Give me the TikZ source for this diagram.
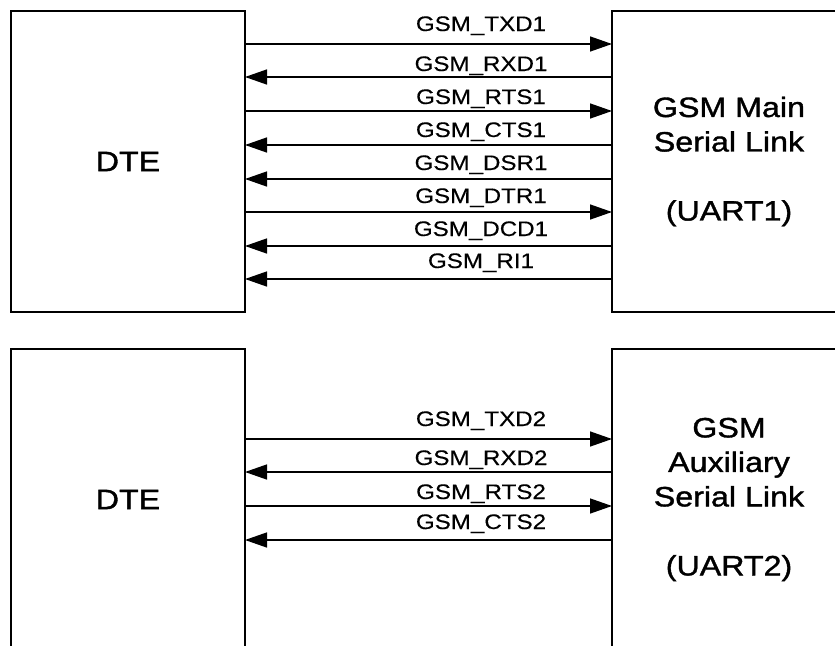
\documentclass[tikz,border=0pt]{standalone}
\usepackage{fontspec}
\usetikzlibrary{arrows.meta}
\newfontfamily\bigf[FakeStretch=1.15,FakeBold=1.3]{Liberation Sans}
\newfontfamily\lblf[FakeStretch=1.15,FakeBold=0.4]{Liberation Sans}
\begin{document}
\begin{tikzpicture}[x=1pt,y=-1pt,
  box/.style={draw,line width=2pt,inner sep=0pt,outer sep=0pt,minimum width=234pt,minimum height=301pt,align=center,
    font=\bigf\fontsize{28}{34.5}\selectfont},
  sig/.style={line width=1.4pt,-{Triangle[length=22pt,width=15pt]}},
  lbl/.style={anchor=base,inner sep=0pt,font=\lblf\fontsize{21}{24}\selectfont}]
\useasboundingbox (0,0) rectangle (835,645);
\clip (0,0) rectangle (835,645);
% top group
\node[box] (dte1) at (128,161.5) {DTE};
\node[box] (gsm1) at (729,161.5) {GSM Main\\Serial Link\\\mbox{}\\(UART1)};
% bottom group
\node[box] (dte2) at (128,499.5) {DTE};
\node[box] (gsm2) at (729,499.5) {GSM\\Auxiliary\\Serial Link\\\mbox{}\\(UART2)};
% top signals: y / direction / label baseline / text
\foreach \y/\d/\b/\t in {44/r/31/GSM\_TXD1, 77/l/71/GSM\_RXD1, 111/r/104/GSM\_RTS1, 145/l/137/GSM\_CTS1,
  179/l/170/GSM\_DSR1, 212/r/203/GSM\_DTR1, 246/l/236/GSM\_DCD1, 279/l/268/GSM\_RI1}{
  \coordinate (a) at (dte1.east |- 0,\y);
  \coordinate (b) at (gsm1.west |- 0,\y);
  \if\d r \draw[sig] (a) -- (b); \else \draw[sig] (b) -- (a); \fi
  \node[lbl] at (481,\b) {\t};
}
\foreach \y/\d/\b/\t in {439/r/426/GSM\_TXD2, 472/l/465/GSM\_RXD2, 506/r/499/GSM\_RTS2, 540/l/529/GSM\_CTS2}{
  \coordinate (a) at (dte2.east |- 0,\y);
  \coordinate (b) at (gsm2.west |- 0,\y);
  \if\d r \draw[sig] (a) -- (b); \else \draw[sig] (b) -- (a); \fi
  \node[lbl] at (481,\b) {\t};
}
\end{tikzpicture}
\end{document}
